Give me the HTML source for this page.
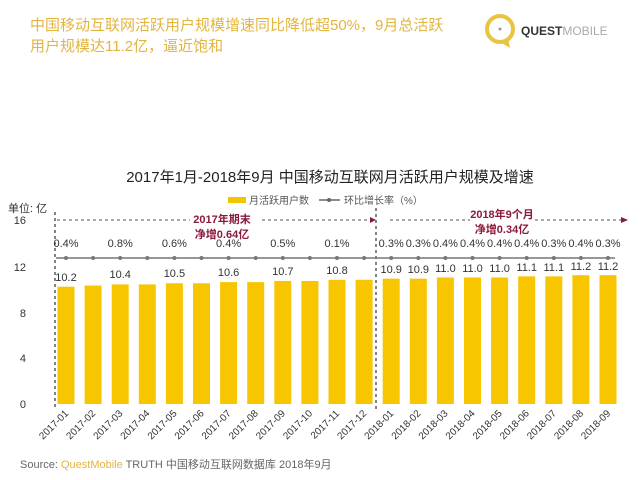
<!DOCTYPE html><html><head><meta charset="utf-8"><style>body{margin:0;background:#fff}svg{display:block}text{font-family:"Liberation Sans","Noto Sans CJK SC",sans-serif}</style></head><body>
<svg width="640" height="480" viewBox="0 0 640 480">
<text x="30" y="30" font-size="15" fill="#e2b540">中国移动互联网活跃用户规模增速同比降低超50%，9月总活跃</text>
<text x="30" y="51" font-size="15" fill="#e2b540">用户规模达11.2亿，逼近饱和</text>
<circle cx="500" cy="29" r="13" fill="none" stroke="#e8c440" stroke-width="4"/><path d="M500 42 L510 48 L508 38" fill="#e8c440"/><circle cx="500" cy="29" r="1.5" fill="#999"/>
<text x="521" y="35" font-size="12" font-weight="bold" fill="#333">QUEST<tspan font-weight="normal" fill="#aaa">MOBILE</tspan></text>
<text x="330" y="182" font-size="15" fill="#222" text-anchor="middle">2017年1月-2018年9月 中国移动互联网月活跃用户规模及增速</text>
<rect x="228" y="197" width="18" height="6" fill="#f5c400"/><text x="249" y="204" font-size="10" fill="#555">月活跃用户数</text>
<line x1="319" y1="200" x2="340" y2="200" stroke="#666" stroke-width="1.5"/><circle cx="329" cy="200" r="2" fill="#666"/><text x="344" y="204" font-size="10" fill="#555">环比增长率（%）</text>
<text x="8" y="212" font-size="11" fill="#333">单位: 亿</text>
<g font-size="11" fill="#333" text-anchor="end"><text x="26" y="224">16</text><text x="26" y="271">12</text><text x="26" y="317">8</text><text x="26" y="362">4</text><text x="26" y="408">0</text></g>
<g fill="#f7c600">
<rect x="57.5" y="286.7" width="17" height="117.3"/><rect x="84.6" y="285.55" width="17" height="118.45"/><rect x="111.7" y="284.4" width="17" height="119.6"/><rect x="138.8" y="284.4" width="17" height="119.6"/><rect x="165.9" y="283.25" width="17" height="120.75"/><rect x="193" y="283.25" width="17" height="120.75"/><rect x="220.1" y="282.1" width="17" height="121.9"/><rect x="247.2" y="282.1" width="17" height="121.9"/><rect x="274.3" y="280.95" width="17" height="123.05"/><rect x="301.4" y="280.95" width="17" height="123.05"/><rect x="328.5" y="279.8" width="17" height="124.2"/><rect x="355.6" y="279.8" width="17" height="124.2"/><rect x="382.7" y="278.65" width="17" height="125.35"/><rect x="409.8" y="278.65" width="17" height="125.35"/><rect x="436.9" y="277.5" width="17" height="126.5"/><rect x="464" y="277.5" width="17" height="126.5"/><rect x="491.1" y="277.5" width="17" height="126.5"/><rect x="518.2" y="276.35" width="17" height="127.65"/><rect x="545.3" y="276.35" width="17" height="127.65"/><rect x="572.4" y="275.2" width="17" height="128.8"/><rect x="599.5" y="275.2" width="17" height="128.8"/>
</g>
<g stroke="#333" stroke-dasharray="3,3" stroke-width="1.2"><line x1="55" y1="212" x2="55" y2="410"/><line x1="376" y1="208" x2="376" y2="410"/></g>
<g stroke="#555" stroke-dasharray="3,3" stroke-width="1"><line x1="57" y1="220" x2="190" y2="220"/><line x1="262" y1="220" x2="372" y2="220"/><line x1="390" y1="220" x2="470" y2="220"/><line x1="535" y1="220" x2="622" y2="220"/></g>
<path d="M370 217 L376 220 L370 223Z M621 217 L628 220 L621 223Z" fill="#8b1a3a"/>
<g font-size="11" font-weight="bold" fill="#8b1a3a" text-anchor="middle"><text x="222" y="223">2017年期末</text><text x="222" y="238">净增0.64亿</text><text x="502" y="218">2018年9个月</text><text x="502" y="233">净增0.34亿</text></g>
<line x1="56" y1="258" x2="615" y2="258" stroke="#777" stroke-width="1.5"/>
<g fill="#777">
<circle cx="66" cy="258" r="2"/><circle cx="93.1" cy="258" r="2"/><circle cx="120.2" cy="258" r="2"/><circle cx="147.3" cy="258" r="2"/><circle cx="174.4" cy="258" r="2"/><circle cx="201.5" cy="258" r="2"/><circle cx="228.6" cy="258" r="2"/><circle cx="255.7" cy="258" r="2"/><circle cx="282.8" cy="258" r="2"/><circle cx="309.9" cy="258" r="2"/><circle cx="337" cy="258" r="2"/><circle cx="364.1" cy="258" r="2"/><circle cx="391.2" cy="258" r="2"/><circle cx="418.3" cy="258" r="2"/><circle cx="445.4" cy="258" r="2"/><circle cx="472.5" cy="258" r="2"/><circle cx="499.6" cy="258" r="2"/><circle cx="526.7" cy="258" r="2"/><circle cx="553.8" cy="258" r="2"/><circle cx="580.9" cy="258" r="2"/><circle cx="608" cy="258" r="2"/>
</g>
<g font-size="11" fill="#333" text-anchor="middle">
<text x="66" y="247">0.4%</text><text x="120.2" y="247">0.8%</text><text x="174.4" y="247">0.6%</text><text x="228.6" y="247">0.4%</text><text x="282.8" y="247">0.5%</text><text x="337" y="247">0.1%</text><text x="391.2" y="247">0.3%</text><text x="418.3" y="247">0.3%</text><text x="445.4" y="247">0.4%</text><text x="472.5" y="247">0.4%</text><text x="499.6" y="247">0.4%</text><text x="526.7" y="247">0.4%</text><text x="553.8" y="247">0.3%</text><text x="580.9" y="247">0.4%</text><text x="608" y="247">0.3%</text>
<text x="66" y="281">10.2</text><text x="120.2" y="278">10.4</text><text x="174.4" y="277">10.5</text><text x="228.6" y="276">10.6</text><text x="282.8" y="275">10.7</text><text x="337" y="274">10.8</text><text x="391.2" y="273">10.9</text><text x="418.3" y="273">10.9</text><text x="445.4" y="272">11.0</text><text x="472.5" y="272">11.0</text><text x="499.6" y="272">11.0</text><text x="526.7" y="271">11.1</text><text x="553.8" y="271">11.1</text><text x="580.9" y="270">11.2</text><text x="608" y="270">11.2</text>
</g>
<g font-size="10" fill="#333" text-anchor="end">
<text transform="translate(69,414) rotate(-45)">2017-01</text><text transform="translate(96.1,414) rotate(-45)">2017-02</text><text transform="translate(123.2,414) rotate(-45)">2017-03</text><text transform="translate(150.3,414) rotate(-45)">2017-04</text><text transform="translate(177.4,414) rotate(-45)">2017-05</text><text transform="translate(204.5,414) rotate(-45)">2017-06</text><text transform="translate(231.6,414) rotate(-45)">2017-07</text><text transform="translate(258.7,414) rotate(-45)">2017-08</text><text transform="translate(285.8,414) rotate(-45)">2017-09</text><text transform="translate(312.9,414) rotate(-45)">2017-10</text><text transform="translate(340,414) rotate(-45)">2017-11</text><text transform="translate(367.1,414) rotate(-45)">2017-12</text><text transform="translate(394.2,414) rotate(-45)">2018-01</text><text transform="translate(421.3,414) rotate(-45)">2018-02</text><text transform="translate(448.4,414) rotate(-45)">2018-03</text><text transform="translate(475.5,414) rotate(-45)">2018-04</text><text transform="translate(502.6,414) rotate(-45)">2018-05</text><text transform="translate(529.7,414) rotate(-45)">2018-06</text><text transform="translate(556.8,414) rotate(-45)">2018-07</text><text transform="translate(583.9,414) rotate(-45)">2018-08</text><text transform="translate(611,414) rotate(-45)">2018-09</text>
</g>
<text x="20" y="468" font-size="11" fill="#666">Source:  <tspan fill="#e2b540">QuestMobile</tspan> TRUTH 中国移动互联网数据库 2018年9月</text>
</svg></body></html>
